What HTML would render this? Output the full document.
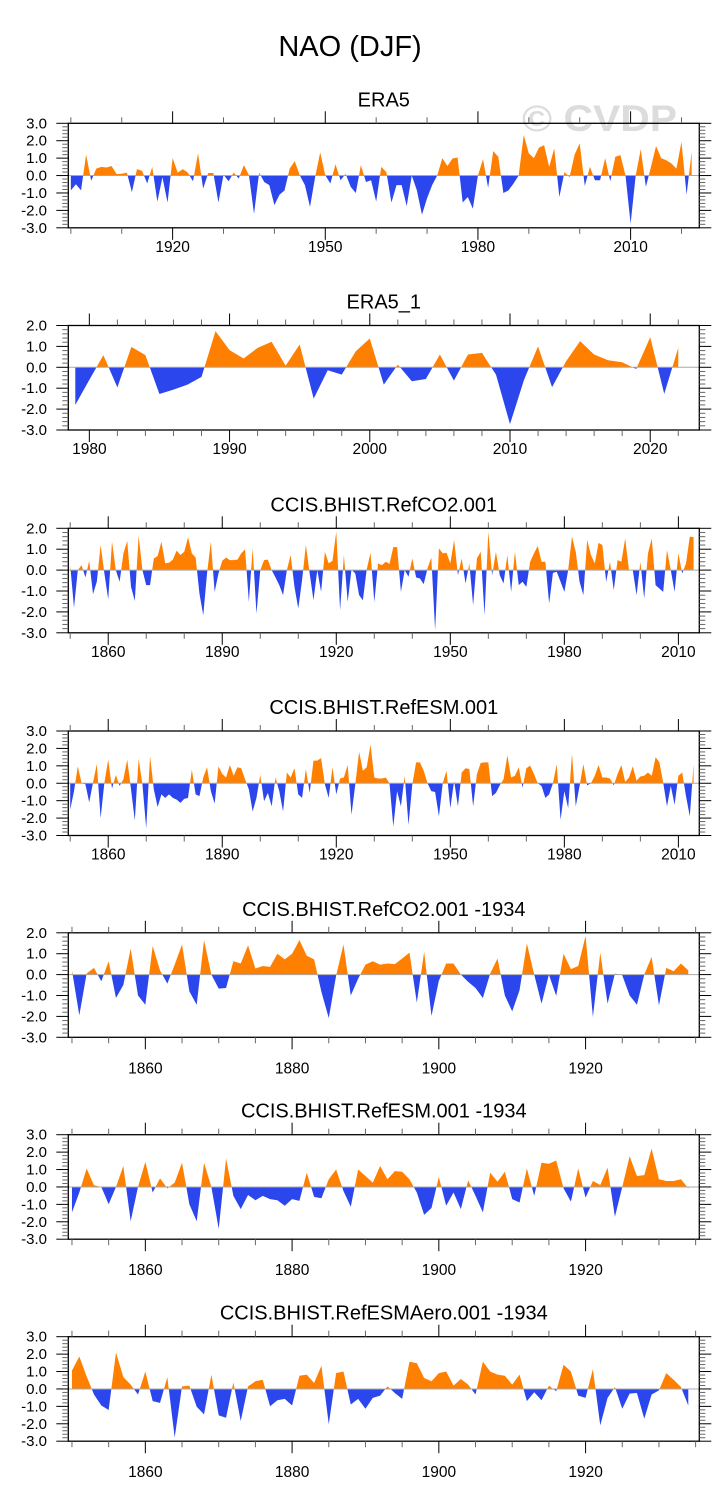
<!DOCTYPE html>
<html>
<head>
<meta charset="utf-8">
<style>
  html, body { margin:0; padding:0; background:#fff; }
  svg { display:block; font-family:"Liberation Sans", sans-serif; }
</style>
</head>
<body>
<svg id="chart" width="728" height="1510" viewBox="0 0 728 1510" xmlns="http://www.w3.org/2000/svg">
  <rect x="0" y="0" width="728" height="1510" fill="#ffffff"/>
  <text x="350" y="56" font-size="29" text-anchor="middle" fill="#000">NAO (DJF)</text>
  <text x="522" y="131" font-size="37" font-weight="bold" fill="#dcdcdc" textLength="155" lengthAdjust="spacingAndGlyphs">© CVDP</text>
</svg>
<script>
// ---------- data ----------
const titles = ["ERA5", "ERA5_1", "CCIS.BHIST.RefCO2.001", "CCIS.BHIST.RefESM.001",
  "CCIS.BHIST.RefCO2.001 -1934", "CCIS.BHIST.RefESM.001 -1934", "CCIS.BHIST.RefESMAero.001 -1934"];
const startYears = [1900, 1979, 1850, 1850, 1850, 1850, 1850];
const yMaxs = [3, 2, 2, 3, 2, 3, 3];
const yMins = [-3, -3, -3, -3, -3, -3, -3];
const yTickLabels3 = ["3.0", "2.0", "1.0", "0.0", "-1.0", "-2.0", "-3.0"];
const yTickLabels2 = ["2.0", "1.0", "0.0", "-1.0", "-2.0", "-3.0"];
const xTickLabelsA = [1920, 1950, 1980, 2010];
const xTickLabelsB = [1980, 1990, 2000, 2010, 2020];
const xTickLabelsC = [1860, 1890, 1920, 1950, 1980, 2010];
const xTickLabelsD = [1860, 1880, 1900, 1920];

const era5Values = [-0.85,-0.5,-0.85,1.2,-0.3,0.4,0.5,0.46,0.55,0.08,0.1,0.17,-0.95,0.37,0.27,-0.45,0.5,-1.5,-0.1,-1.55,
 1.0,0.17,0.37,0.17,-0.33,1.27,-0.75,0.15,0.15,-1.55,0.05,-0.33,0.17,-0.17,0.6,0.02,-2.2,0.17,-0.37,-0.55,
 -1.7,-1.1,-0.85,0.4,0.83,0.0,-0.55,-1.8,-0.1,1.33,0.02,-0.46,0.65,-0.27,0.1,-0.65,-1.0,0.6,-0.37,-0.27,
 -1.5,0.5,0.2,-1.55,-0.55,-0.55,-1.75,0.0,-0.85,-2.25,-1.3,-0.55,0.0,1.0,0.55,0.98,1.04,-1.55,-1.23,-1.9,
 0.0,0.94,-0.7,1.4,1.08,-1.0,-0.85,-0.46,0.0,2.33,1.27,1.0,1.6,1.75,0.5,1.56,-1.23,0.2,-0.08,1.2,
 1.85,-0.6,0.5,-0.27,-0.27,1.0,-0.33,1.08,1.17,0.0,-2.77,0.0,1.52,-0.65,0.5,1.7,1.0,0.88,0.7,0.4,
 1.94,-1.1,1.37];
const era5b1Values = [-1.8,-0.6,0.58,-0.96,0.98,0.58,-1.28,-1.07,-0.83,-0.46,1.73,0.82,0.42,0.93,1.22,0.08,1.09,-1.5,-0.14,-0.35,
 0.77,1.38,-0.83,0.13,-0.67,-0.56,0.61,-0.64,0.61,0.69,-0.35,-2.72,-0.6,1.0,-0.95,0.29,1.25,0.61,0.34,0.24,
 -0.08,1.44,-1.27,0.93];
const refco2Values = [0.24,-1.8,0.0,0.24,-0.35,0.45,-1.15,-0.56,1.2,-0.16,-1.4,1.36,0.0,-0.56,0.8,1.4,-0.8,-1.47,1.65,0.0,
 -0.72,-0.72,0.56,0.67,1.36,0.32,0.35,0.5,0.93,0.72,0.88,1.57,0.8,0.6,-1.12,-2.16,-0.16,1.36,-1.04,-0.16,
 0.45,0.6,0.48,0.48,0.5,0.8,1.0,-1.52,1.04,-2.08,0.0,0.48,0.5,0.0,-0.35,-0.72,-1.2,0.0,0.72,-0.8,
 -1.84,-0.48,1.2,-0.16,-1.44,0.0,-1.04,0.88,0.32,0.45,1.84,-1.92,0.72,-1.52,0.03,-0.16,-1.2,-1.44,0.03,0.83,
 -1.52,0.32,0.24,0.4,0.3,1.1,1.1,-1.04,0.0,-0.32,0.56,-0.35,-0.4,-0.67,0.08,0.6,-2.88,1.04,0.8,0.83,
 0.32,1.44,-0.24,0.56,-0.64,0.32,-1.68,0.56,0.88,-2.16,1.84,-0.24,0.88,-0.24,-0.64,0.72,-1.04,0.88,-0.72,-0.56,
 -0.8,0.4,0.8,1.15,0.4,0.4,-1.6,-0.13,-0.08,-0.56,-1.04,0.0,1.6,0.88,-0.56,-1.2,1.44,0.72,0.32,1.3,
 1.2,-0.56,0.4,-0.96,0.48,0.4,1.52,0.0,0.0,-1.2,0.4,-1.36,0.8,1.52,-0.72,-0.88,-1.04,0.96,0.0,-1.04,
 0.8,-0.16,0.32,1.6,1.57];
const refesmValues = [-1.52,-0.45,0.97,0.0,-0.06,-1.1,0.04,1.1,-2.0,0.04,1.36,-0.3,0.47,-0.15,0.23,1.36,-0.35,-2.14,1.4,-0.06,
 -2.6,1.56,-0.35,-1.36,-0.64,-0.84,-0.64,-0.84,-0.94,-1.13,-0.9,-0.84,0.78,-0.64,-0.74,0.33,0.92,-0.45,-1.17,0.97,
 0.53,0.33,1.05,0.43,0.92,0.86,0.23,-0.35,-1.62,-0.84,0.47,-1.03,-0.55,-1.33,0.33,-0.45,-1.62,0.62,0.33,0.86,
 -0.64,-0.84,0.82,-0.55,1.3,1.3,1.44,-0.06,-0.84,0.92,-0.64,0.27,0.33,1.05,-1.81,-0.06,1.8,0.72,0.92,2.22,
 0.33,0.27,0.27,0.33,0.0,-2.5,-0.45,-1.33,0.43,-2.4,-0.06,1.2,1.2,0.72,0.0,-0.45,-0.5,-1.9,0.0,0.72,
 -1.43,0.14,-1.33,0.62,0.86,0.82,-1.33,0.53,1.17,1.2,1.2,-0.74,-0.55,-0.12,0.23,1.6,0.33,0.43,0.92,-0.25,
 0.86,1.01,0.53,0.0,-0.16,-0.84,-0.64,0.0,1.1,-2.1,-0.45,-1.43,1.7,-1.33,-0.16,1.1,-0.12,0.0,0.43,1.05,
 0.33,0.33,0.27,-0.12,0.53,1.05,0.08,0.33,0.97,0.14,0.39,0.43,0.62,0.43,1.5,1.2,0.04,-1.33,-0.16,-1.23,
 0.43,0.62,-0.74,-1.9,1.1];
const refco2EarlyValues = [0.2,-1.95,0.05,0.32,-0.32,0.64,-1.12,-0.5,1.25,-1.0,-1.44,1.37,0.2,-0.43,0.48,1.44,-0.8,-1.44,1.65,0.0,
 -0.67,-0.64,0.64,0.53,1.4,0.29,0.41,0.37,1.0,0.73,1.0,1.65,0.9,0.73,-0.83,-2.08,-0.05,1.44,-1.0,-0.2,
 0.48,0.64,0.48,0.53,0.5,0.77,1.05,-1.34,1.09,-1.98,-0.3,0.53,0.53,0.0,-0.35,-0.64,-1.12,0.05,0.77,-1.0,
 -1.76,-0.75,1.49,0.0,-1.39,0.0,-1.02,1.0,0.26,0.41,1.85,-2.03,1.05,-1.39,0.05,-0.03,-1.0,-1.44,0.0,0.85,
 -1.47,0.32,0.16,0.53,0.2];
const refesmEarlyValues = [-1.46,-0.32,1.06,0.1,0.0,-0.99,0.0,1.2,-1.97,0.0,1.44,-0.32,0.49,-0.08,0.25,1.39,-0.99,-1.97,1.39,0.0,
 -2.41,1.63,-0.51,-1.27,-0.46,-0.76,-0.51,-0.7,-0.76,-1.08,-0.7,-0.8,0.82,-0.57,-0.65,0.44,1.0,-0.23,-1.14,1.0,
 0.63,0.25,1.2,0.44,0.91,0.87,0.44,-0.32,-1.6,-1.21,0.57,-1.08,-0.32,-1.27,0.38,-0.51,-1.46,0.82,0.3,0.87,
 -0.7,-0.89,1.06,-0.51,1.39,1.33,1.52,-0.08,-0.84,1.06,-0.61,0.34,0.11,1.1,-1.71,0.0,1.76,0.63,0.68,2.2,
 0.44,0.34,0.34,0.44,-0.08];
const refesmAeroValues = [1.06,1.86,0.72,-0.32,-0.95,-1.21,2.09,0.68,0.25,-0.32,1.0,-0.7,-0.8,0.68,-2.79,0.15,0.19,-1.02,-1.46,0.82,
 -1.52,-1.65,0.38,-1.84,0.15,0.44,0.53,-0.99,-0.65,-0.57,-0.95,0.76,0.82,0.34,1.33,-2.03,0.91,1.0,-0.89,-0.57,
 -1.14,-0.51,-0.38,0.15,-0.23,-0.57,1.56,1.48,0.63,0.44,0.91,1.0,0.19,0.57,0.25,-0.32,1.57,1.0,0.82,0.76,
 0.25,0.82,-0.7,-0.19,-0.65,0.19,-0.13,1.39,1.0,-0.38,-0.51,1.14,-2.09,-0.51,0.11,-1.14,-0.27,-0.23,-1.71,-0.32,
 -0.08,0.91,0.53,0.11,-0.95];

const seriesList = [era5Values, era5b1Values, refco2Values, refesmValues, refco2EarlyValues, refesmEarlyValues, refesmAeroValues];
const xTickSets = [xTickLabelsA, xTickLabelsB, xTickLabelsC, xTickLabelsC, xTickLabelsD, xTickLabelsD, xTickLabelsD];
const yLabelSets = [yTickLabels3, yTickLabels2, yTickLabels2, yTickLabels3, yTickLabels2, yTickLabels3, yTickLabels3];

// ---------- layout (not data) ----------
const NS = "http://www.w3.org/2000/svg";
const svg = document.getElementById("chart");
const X0 = 68.3, X1 = 699.3, PH = 104.5;
const panelTops = [123.3, 325.5, 528.3, 731, 932.8, 1134.7, 1336.7];
const minorStepX = [10, 2, 10, 10, 5, 5, 5];
const xLabelOffsets = [24, 24, 24, 24, 36, 36, 36];
const ORANGE = "#ff8000", BLUE = "#2a46ec";

function mk(tag, attrs, parent) {
  const e = document.createElementNS(NS, tag);
  for (const k in attrs) e.setAttribute(k, attrs[k]);
  parent.appendChild(e);
  return e;
}

seriesList.forEach(function (vals, p) {
  const top = panelTops[p], bot = top + PH;
  const start = startYears[p], last = start + vals.length - 1;
  const xMin = start - 0.5, xMax = last + 1.5;
  const yMax = yMaxs[p], yMin = yMins[p];
  const xs = function (yr) { return X0 + (yr - xMin) / (xMax - xMin) * (X1 - X0); };
  const ys = function (v) { return top + (yMax - v) / (yMax - yMin) * PH; };
  const zeroY = ys(0);

  const g = mk("g", {}, svg);
  
  

  const t = mk("text", { x: (X0 + X1) / 2, y: top - 17, "font-size": 20, "text-anchor": "middle", fill: "#000" }, g);
  t.textContent = titles[p];
  
  

  const defs = mk("defs", {}, g);
  const cpA = mk("clipPath", { id: "ca" + p }, defs);
  mk("rect", { x: X0, y: top, width: X1 - X0, height: zeroY - top }, cpA);
  const cpB = mk("clipPath", { id: "cb" + p }, defs);
  mk("rect", { x: X0, y: zeroY, width: X1 - X0, height: bot - zeroY }, cpB);

  let pts = xs(start).toFixed(2) + "," + zeroY.toFixed(2);
  vals.forEach(function (v, i) { pts += " " + xs(start + i).toFixed(2) + "," + ys(v).toFixed(2); });
  pts += " " + xs(last).toFixed(2) + "," + zeroY.toFixed(2);

  const pa = mk("polygon", { points: pts, fill: ORANGE, "clip-path": "url(#ca" + p + ")" }, g);
  
  
  const pb = mk("polygon", { points: pts, fill: BLUE, "clip-path": "url(#cb" + p + ")" }, g);
  
  

  const zl = mk("line", { x1: X0, x2: X1, y1: zeroY, y2: zeroY, stroke: "#a8a8a8", "stroke-width": 1 }, g);
  
  

  const box = mk("rect", { x: X0, y: top, width: X1 - X0, height: PH, fill: "none", stroke: "#000", "stroke-width": 1.3 }, g);
  
  

  for (let k = Math.round(yMin * 5); k <= Math.round(yMax * 5); k++) {
    const v = k / 5, y = ys(v), major = (k % 5 === 0);
    const len = major ? 12 : 6;
    mk("line", { x1: X0 - len, x2: X0, y1: y, y2: y, stroke: major ? "#000" : "#666", "stroke-width": 1 }, g);
    mk("line", { x1: X1, x2: X1 + len, y1: y, y2: y, stroke: major ? "#000" : "#666", "stroke-width": 1 }, g);
  }
  yLabelSets[p].forEach(function (lab) {
    const yt = mk("text", { x: 47, y: ys(parseFloat(lab)) + 5, "font-size": 15, "text-anchor": "end", fill: "#000" }, g);
    yt.textContent = lab;
    
    
  });

  const ms = minorStepX[p];
  const majors = xTickSets[p];
  for (let yr = Math.ceil(xMin / ms) * ms; yr <= xMax; yr += ms) {
    const x = xs(yr), major = majors.indexOf(yr) >= 0;
    const len = major ? 12 : 6;
    mk("line", { x1: x, x2: x, y1: top - len, y2: top, stroke: major ? "#000" : "#666", "stroke-width": 1 }, g);
    mk("line", { x1: x, x2: x, y1: bot, y2: bot + len, stroke: major ? "#000" : "#666", "stroke-width": 1 }, g);
  }
  majors.forEach(function (yr) {
    const xt = mk("text", { x: xs(yr), y: bot + xLabelOffsets[p], "font-size": 15.5, "text-anchor": "middle", fill: "#000" }, g);
    xt.textContent = String(yr);
    
    
  });
});
</script>
</body>
</html>
